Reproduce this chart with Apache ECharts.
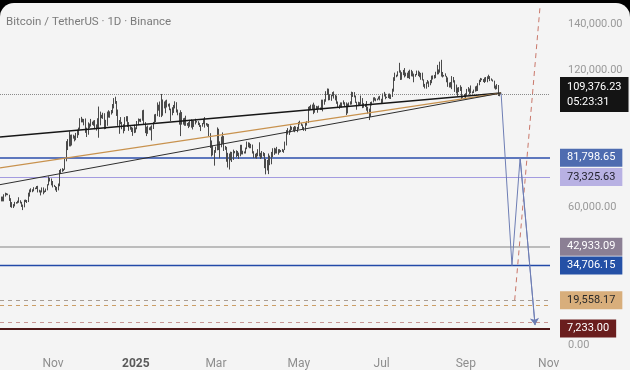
<!DOCTYPE html>
<html><head><meta charset="utf-8">
<script src="https://cdn.jsdelivr.net/npm/echarts@6/dist/echarts.min.js"></script>
<style>
html,body{margin:0;padding:0;background:#000;width:630px;height:370px;overflow:hidden;}
#frame{position:absolute;left:0;top:3px;width:630px;height:367px;background:#f4f4f4;border-radius:14px 14px 0 0;overflow:hidden;}
#chart{width:630px;height:367px;}
</style></head><body>
<div id="frame"><div id="chart"></div></div>
<script>
// ---------- DATA ----------
const titleText = 'Bitcoin / TetherUS · 1D · Binance';
const startDate = '2024-09-23';
const firstOpen = 63.6; // thousands USDT
// daily closes (thousands USDT), Sep 23 2024 .. Sep 26 2025
const closes = [
 63.3,64.3,63.1,65.2,65.9,65.8,65.6,63.3,
 60.8,60.6,60.7,62.1,62.1,62.8,62.2,62.1,60.6,60.3,62.5,63.2,62.9,66.0,67.0,67.6,67.4,68.4,68.4,69.0,67.4,67.4,66.7,68.2,66.6,67.0,67.9,69.9,72.7,72.3,70.2,
 69.5,69.3,68.7,67.8,69.4,75.6,75.9,76.5,76.7,80.4,88.7,88.0,90.5,87.3,91.1,90.6,89.8,90.5,92.3,94.3,98.3,98.9,97.7,98.0,93.0,91.9,95.9,95.6,97.5,96.4,
 97.2,95.8,96.0,98.8,97.0,99.9,99.9,101.1,97.4,96.6,101.1,100.0,101.4,101.4,104.5,106.1,106.1,100.2,97.5,97.8,97.2,95.2,94.9,98.7,99.4,95.8,94.2,95.2,93.7,92.8,93.6,
 94.6,96.9,98.1,98.2,98.3,102.1,96.9,95.0,92.5,94.7,94.5,94.5,94.5,96.5,100.5,99.9,104.1,104.5,101.3,102.0,106.1,103.7,104.0,104.7,104.7,102.6,102.1,101.3,103.7,104.7,102.4,
 100.6,97.7,101.3,97.9,96.6,96.6,96.5,96.6,96.5,97.4,95.8,97.9,96.6,97.5,97.6,96.1,95.8,95.5,96.6,98.3,96.1,96.6,96.3,91.5,88.7,84.7,84.7,84.3,
 86.0,94.3,86.1,87.2,90.6,89.9,86.8,86.2,80.7,78.5,82.9,83.7,81.1,83.9,84.3,82.6,84.0,82.7,86.8,84.2,84.0,83.8,86.1,87.5,87.4,86.9,87.2,84.4,82.6,82.3,82.5,
 85.2,82.5,83.1,83.8,83.5,78.4,79.1,76.3,82.6,79.6,83.4,85.3,83.7,84.5,83.6,84.0,84.9,84.4,85.0,85.1,87.5,93.4,93.7,93.9,94.7,94.6,93.8,95.0,94.3,94.2,
 96.5,96.9,95.9,94.3,94.7,96.8,97.0,103.2,102.9,104.6,104.1,102.8,104.1,103.5,103.7,103.5,103.1,106.4,105.6,106.8,109.6,111.7,107.3,107.8,109.0,109.4,108.9,107.8,105.6,103.9,104.6,
 105.6,105.8,105.4,104.7,101.5,104.3,105.6,105.7,110.3,110.2,108.6,105.9,106.1,105.4,105.6,106.8,104.6,104.9,104.6,103.3,102.1,100.9,105.4,106.0,107.3,106.9,107.1,107.3,108.4,107.1,
 105.7,108.8,109.6,108.0,108.2,109.2,108.3,108.9,111.3,115.9,117.5,117.4,119.1,119.8,117.7,118.6,119.2,117.9,117.9,117.3,117.4,119.9,118.8,118.3,117.6,117.9,119.4,118.0,117.8,117.8,115.8,
 113.3,112.5,114.2,115.0,114.1,115.0,117.5,116.6,116.5,119.3,118.7,120.2,123.3,118.3,117.4,117.5,117.4,116.2,112.9,114.3,112.5,116.9,115.4,113.5,110.1,111.8,111.2,112.6,108.4,108.8,108.2,
 109.2,111.2,111.7,110.7,110.2,110.2,111.1,112.0,111.5,113.9,115.5,116.1,115.9,115.3,115.3,116.8,116.5,117.1,115.7,115.7,115.2,112.7,112.0,113.3,109.0,109.4
];
const highs = [
 64.7,64.8,64.8,65.8,66.5,66.3,66.1,65.6,
 64.1,62.4,61.5,62.5,62.4,63.0,64.5,63.2,62.5,61.3,63.4,63.5,63.3,66.5,67.9,68.4,68.0,68.9,68.7,69.4,69.5,67.8,67.5,68.8,68.8,67.4,68.3,70.2,73.6,72.9,72.7,
 71.6,69.9,69.4,69.0,70.5,76.4,76.9,77.2,76.9,81.5,89.0,89.9,93.3,91.8,91.9,91.8,91.4,92.6,94.0,94.9,99.0,99.6,98.8,98.7,98.9,94.9,97.2,96.7,98.7,97.5,
 98.0,98.2,96.3,99.0,104.1,101.9,100.5,101.4,101.2,98.3,101.9,102.5,102.0,102.6,105.2,107.8,108.4,106.5,102.8,98.2,99.5,97.4,96.4,99.5,99.9,99.9,97.3,95.5,95.2,94.9,96.2,
 95.0,97.8,98.9,98.7,98.8,102.5,102.7,97.3,95.3,95.8,95.0,95.4,95.9,97.4,100.7,100.9,105.9,104.9,106.3,109.6,107.2,106.3,106.8,107.1,105.3,105.5,103.2,103.8,104.8,106.4,106.0,
 102.8,101.4,102.5,101.7,99.0,99.2,100.1,96.9,97.3,98.3,98.5,98.1,98.0,98.8,97.9,97.7,97.0,96.0,96.9,98.8,99.5,96.9,96.7,96.5,92.5,89.3,87.1,85.1,
 86.6,95.0,94.4,88.9,91.0,92.8,91.2,86.9,86.5,83.9,83.6,84.4,84.3,85.3,84.7,85.0,84.7,84.0,87.4,87.4,84.8,84.5,86.2,88.8,88.5,88.3,87.8,87.5,84.6,83.5,83.9,
 85.5,88.5,83.9,84.7,84.2,83.8,81.2,80.8,83.6,82.7,84.3,85.9,86.1,85.8,86.5,85.5,85.5,85.1,85.6,85.3,88.8,93.8,94.7,94.0,95.8,95.3,95.1,95.6,95.4,95.2,
 97.4,97.9,96.9,96.3,95.2,96.9,97.7,104.0,104.3,104.9,105.0,105.8,104.9,104.4,104.2,104.5,103.7,107.1,107.1,107.3,110.8,112.0,111.9,109.5,109.3,110.4,110.7,109.3,108.9,106.3,104.9,
 105.9,105.9,106.8,106.0,105.9,105.4,105.9,106.4,110.6,110.4,110.4,108.9,106.2,106.2,106.0,108.9,107.8,105.6,105.3,106.5,104.0,103.2,106.1,106.3,108.1,108.2,107.7,107.6,108.5,108.8,
 107.5,109.8,110.5,109.7,108.4,109.7,109.8,109.2,111.9,116.9,118.9,118.0,119.5,123.2,119.9,119.1,120.1,120.9,118.9,118.9,119.7,120.2,120.1,119.5,118.5,118.3,119.8,119.8,119.3,118.8,118.9,
 116.0,114.0,114.7,115.7,115.1,115.7,117.6,117.7,117.9,119.3,122.3,120.3,123.7,124.5,119.2,117.9,118.6,117.5,116.8,114.6,114.8,117.4,117.0,115.6,113.7,112.4,112.6,113.4,112.7,108.9,109.5,
 109.9,111.8,112.6,112.0,113.3,110.7,111.5,112.9,113.2,114.3,115.8,116.6,116.4,116.1,116.8,117.0,117.3,118.0,117.4,116.4,115.9,115.4,113.3,113.9,113.5,110.0
];
const lows = [
 62.7,62.7,62.7,62.7,64.8,65.4,65.4,62.9,
 60.2,59.9,59.8,60.5,61.7,61.8,62.1,61.8,60.3,58.9,60.1,62.4,62.0,62.4,64.8,66.7,66.7,67.1,68.0,68.1,66.6,66.6,65.3,66.6,65.8,66.5,66.8,67.5,69.7,71.4,69.7,
 68.8,69.0,67.5,66.8,67.5,69.3,74.7,75.6,75.9,76.5,80.2,85.1,86.7,86.7,87.1,90.1,88.9,89.4,90.4,91.6,94.1,97.2,97.2,95.9,92.6,90.8,91.8,94.7,95.4,96.1,
 95.7,94.2,93.6,94.7,90.5,95.9,99.0,98.7,94.2,94.3,95.7,99.3,99.2,100.6,101.2,103.3,105.3,100.0,95.7,92.2,96.4,94.2,92.4,93.4,97.6,95.2,93.5,94.0,93.0,91.3,92.5,
 92.7,94.2,96.0,97.5,97.3,97.9,96.1,92.5,91.2,92.2,93.8,93.7,89.3,94.3,96.5,97.3,99.9,102.3,99.6,99.5,100.1,103.3,101.2,103.7,104.1,102.5,97.8,100.3,101.3,103.3,101.5,
 100.3,96.2,91.2,96.2,96.2,95.7,95.7,95.7,94.7,95.3,94.9,94.1,95.2,96.3,97.1,96.0,95.2,93.4,95.3,96.4,94.9,95.8,95.2,91.2,86.0,82.3,82.8,78.3,
 83.9,85.0,85.1,81.5,86.3,87.8,84.7,85.2,80.0,77.5,76.6,80.6,79.9,80.8,83.7,82.0,82.5,81.2,82.4,83.2,83.2,83.6,83.6,85.5,86.3,85.9,85.9,83.6,81.6,81.6,81.3,
 82.4,82.3,81.2,81.6,82.4,77.2,74.5,76.2,74.6,78.5,78.9,82.0,83.0,83.6,83.6,83.1,83.9,84.2,84.3,83.9,85.1,87.1,91.9,91.7,92.8,93.9,93.3,92.9,93.9,92.9,
 94.1,96.3,95.7,94.1,93.5,93.4,95.8,96.9,102.4,102.8,103.0,100.8,101.4,102.6,101.4,103.1,102.6,102.6,102.0,104.9,106.2,109.2,106.8,106.9,106.6,108.6,107.6,106.8,105.3,103.6,103.1,
 103.9,103.7,105.0,104.2,100.4,101.1,103.9,104.9,105.0,108.3,108.1,105.7,102.7,104.3,104.5,104.9,103.4,103.6,103.9,102.3,101.0,98.2,99.6,104.6,105.9,106.7,106.4,106.8,107.2,106.8,
 105.2,105.7,108.5,107.3,107.8,107.8,107.5,107.4,108.3,110.6,115.3,116.9,117.3,118.9,115.7,115.8,117.8,116.8,117.3,116.5,116.5,116.1,117.3,117.2,114.7,117.1,117.8,117.4,116.9,115.8,115.5,
 112.7,112.0,111.9,114.1,112.6,113.4,114.3,115.9,116.3,116.5,118.1,118.2,118.9,117.2,116.8,117.2,117.2,114.7,112.7,112.4,112.4,111.7,114.6,110.5,109.8,108.7,110.4,110.9,107.4,107.9,108.1,
 107.3,108.8,110.6,109.3,109.9,109.8,110.0,110.6,110.8,110.9,113.4,114.8,115.6,114.8,114.4,114.9,114.7,116.1,115.2,115.4,115.0,112.0,111.5,111.7,108.7,108.6
];
const xMinDate = '2024-09-23';
const xMaxDate = '2025-11-02';
const monthTickDates = ['2024-11-01','2025-01-01','2025-03-01','2025-05-01','2025-07-01','2025-09-01','2025-11-01'];
const monthTickLabels = ['Nov','2025','Mar','May','Jul','Sep','Nov'];
const yMin = 0, yMax = 148000, yInterval = 20000;
const yShownLabels = [0, 60000, 120000, 140000];
const lastPrice = 109376.23;
const countdown = '05:23:31';
const levelValues = [81798.65, 73325.63, 42933.09, 34706.15, 19558.17, 7233.00];
const extraDashedLevels = [17500, 10000];
// trend lines
const trendADates = ['2024-09-23','2025-09-27'], trendAValues = [90800, 110000];
const trendBDates = ['2024-09-23','2025-09-27'], trendBValues = [77300, 110000];
const trendCDates = ['2024-09-23','2025-09-27'], trendCValues = [70000, 110000];
// projection path
const projDates = ['2025-09-27','2025-10-05','2025-10-11','2025-10-22'];
const projValues = [109800, 34706, 81798, 8700];
// red dashed ray
const rayDates = ['2025-10-07','2025-10-26'];
const rayValues = [19558, 150000];

// ---------- BUILD ----------
const ts = s => { const [y,m,d] = s.split('-').map(Number); return new Date(y, m-1, d).getTime(); };
const [sy, sm, sd] = startDate.split('-').map(Number);
const candleData = closes.map((c, i) => {
  const t = new Date(sy, sm-1, sd+i).getTime();
  const o = i === 0 ? firstOpen : closes[i-1];
  return [t, o*1000, c*1000, lows[i]*1000, highs[i]*1000];
});
const pairs = (ds, vs) => ds.map((d, i) => [ts(d), vs[i]]);
const fmt = v => v.toLocaleString('en-US', {minimumFractionDigits: 2, maximumFractionDigits: 2});
const monthTickTs = monthTickDates.map(ts);

const levelStyles = [
  {line:'#5d77bd', width:2, type:'solid', bg:'#4e6cb0', fg:'#ffffff'},
  {line:'#a39be0', width:1.2, type:'solid', bg:'#b8b1e3', fg:'#1f1f2a'},
  {line:'#bcbcbc', width:2, type:'solid', bg:'#8b7f94', fg:'#ffffff'},
  {line:'#2249a8', width:1.4, type:'solid', bg:'#2450a6', fg:'#ffffff'},
  {line:'#a89d94', width:1, type:[4,4], bg:'#d8ae7b', fg:'#2a2a2a'},
  {line:'#501818', width:2, type:'solid', bg:'#6a1e1e', fg:'#ffffff'}
];
const extraStyles = [{line:'#cc9e66'}, {line:'#c99694'}];
const tagLabel = (text, bg, fg) => ({
  show: true, position: 'end', distance: 10, formatter: text,
  color: fg, backgroundColor: bg, padding: [3,7,2,7],
  fontSize: 11, lineHeight: 13, fontFamily: 'Roboto'
});
const markData = [];
extraDashedLevels.forEach((v, i) => markData.push({
  yAxis: v, lineStyle: {color: extraStyles[i].line, width: 1, type: [4,4]}, label: {show: false}
}));
levelValues.forEach((v, i) => {
  const s = levelStyles[i];
  markData.push({ yAxis: v, lineStyle: {color: s.line, width: s.width, type: s.type}, label: tagLabel(fmt(v), s.bg, s.fg) });
});
markData.push({
  yAxis: lastPrice, lineStyle: {color: '#8a8a8a', width: 1, type: 'dotted'},
  label: Object.assign(tagLabel(fmt(lastPrice) + '\n' + countdown, '#141414', '#ffffff'), {lineHeight: 15, padding: [3,7,2,7]})
});

const chart = echarts.init(document.getElementById('chart'), null, {renderer: 'canvas'});
chart.setOption({
  animation: false,
  backgroundColor: 'transparent',
  title: { text: titleText, left: 6, top: 13, padding: 0, textStyle: {color: '#7b7b7b', fontSize: 11.5, fontWeight: 'normal', fontFamily: 'Roboto'} },
  grid: { left: 0, right: 80, top: 3, bottom: 25 },
  xAxis: {
    type: 'value', min: ts(xMinDate), max: ts(xMaxDate), scale: true,
    axisLine: {show: false}, axisTick: {show: false}, splitLine: {show: false},
    axisLabel: {
      customValues: monthTickTs, margin: 13, hideOverlap: false,
      color: '#8e8e8e', fontSize: 12, fontFamily: 'Roboto',
      formatter: v => { const i = monthTickTs.indexOf(v); if (i < 0) return ''; const s = monthTickLabels[i]; return /^\d{4}$/.test(s) ? '{b|' + s + '}' : s; },
      rich: { b: {fontWeight: 'bold', color: '#5a5a5a', fontSize: 12, fontFamily: 'Roboto'} }
    }
  },
  yAxis: {
    type: 'value', position: 'right', min: yMin, max: yMax, interval: yInterval,
    axisLine: {show: false}, axisTick: {show: false}, splitLine: {show: false},
    axisLabel: { margin: 18, color: '#9a9a9a', fontSize: 11, fontFamily: 'Roboto',
      formatter: v => yShownLabels.includes(v) ? fmt(v) : '' }
  },
  series: [
    { type: 'candlestick', data: candleData, barWidth: 1, z: 3,
      itemStyle: {color: '#4a4a4a', color0: '#4a4a4a', borderColor: '#4a4a4a', borderColor0: '#4a4a4a', borderWidth: 1},
      markLine: { silent: true, symbol: ['none','none'], animation: false, data: markData, z: 2 } },
    { type: 'line', data: pairs(trendADates, trendAValues), symbol: 'none', z: 4, lineStyle: {color: '#161616', width: 1.5} },
    { type: 'line', data: pairs(trendBDates, trendBValues), symbol: 'none', z: 4, lineStyle: {color: '#c8924e', width: 1.2} },
    { type: 'line', data: pairs(trendCDates, trendCValues), symbol: 'none', z: 4, lineStyle: {color: '#2e2e2e', width: 1} },
    { type: 'line', data: pairs(rayDates, rayValues), symbol: 'none', z: 4, lineStyle: {color: '#c9776a', width: 1, type: [5,4]} },
    { type: 'line', data: pairs(projDates, projValues), symbol: 'none', z: 5, lineStyle: {color: '#6d7db4', width: 1} },
    { type: 'lines', coordinateSystem: 'cartesian2d', z: 5, symbol: ['none','arrow'], symbolSize: 7,
      lineStyle: {color: '#6d7db4', width: 1, opacity: 1},
      data: [{coords: pairs(projDates.slice(2), projValues.slice(2))}] }
  ]
});
</script></body></html>
